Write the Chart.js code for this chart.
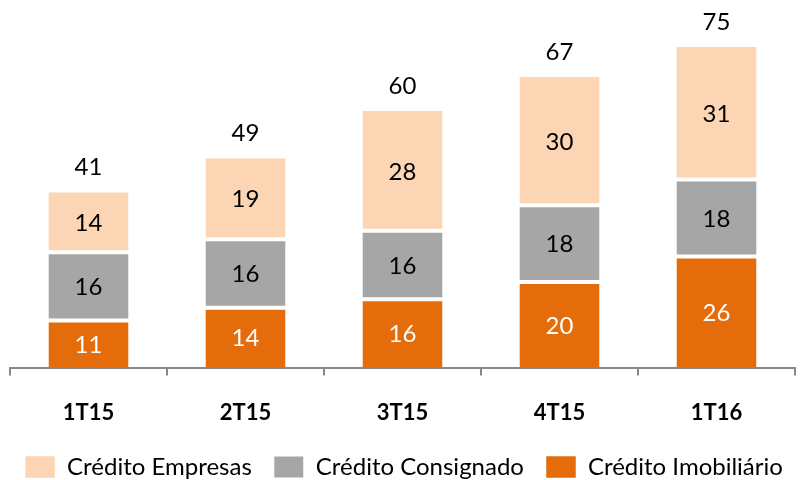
<!DOCTYPE html>
<html>
<head>
<meta charset="utf-8">
<script src="https://cdn.jsdelivr.net/npm/chart.js@4"></script>
<style>
  html, body { margin: 0; padding: 0; background: #fff; }
  #wrap { width: 808px; height: 480px; }
</style>
</head>
<body>
<div id="wrap"><canvas id="barChart" width="808" height="480"></canvas></div>
<script>
const labels = ["1T15", "2T15", "3T15", "4T15", "1T16"];
const imobiliario = [11, 14, 16, 20, 26];
const consignado = [16, 16, 16, 18, 18];
const empresas = [14, 19, 28, 30, 31];
const totals = [41, 49, 60, 67, 75];

const FONT = "Lato, 'Open Sans', sans-serif";

// draws the numbers inside the segments and the totals on top
const valueLabels = {
  id: "valueLabels",
  afterDatasetsDraw(chart) {
    const ctx = chart.ctx;
    ctx.save();
    ctx.textAlign = "center";
    ctx.textBaseline = "middle";
    ctx.font = "24px " + FONT;
    chart.data.datasets.forEach((ds, i) => {
      const meta = chart.getDatasetMeta(i);
      meta.data.forEach((bar, j) => {
        ctx.fillStyle = i === 0 ? "#ffffff" : "#000000";
        ctx.fillText(ds.data[j], bar.x, (bar.y + bar.base) / 2 + 1);
      });
    });
    const top = chart.getDatasetMeta(2);
    ctx.fillStyle = "#000000";
    top.data.forEach((bar, j) => {
      ctx.fillText(totals[j], bar.x, bar.y - 25);
    });
    ctx.restore();
  }
};

// invisible side axes, only used to hold the plot margins
const fixedWidth = (w) => (scale) => { scale.width = w; };

const ctx = document.getElementById("barChart");
new Chart(ctx, {
  type: "bar",
  data: {
    labels: labels,
    datasets: [
      {
        label: "Crédito Imobiliário",
        data: imobiliario,
        backgroundColor: "#E46C0A",
        borderColor: "#ffffff",
        borderWidth: { top: 2 },
        borderSkipped: false
      },
      {
        label: "Crédito Consignado",
        data: consignado,
        backgroundColor: "#A6A6A6",
        borderColor: "#ffffff",
        borderWidth: { top: 2, bottom: 2 },
        borderSkipped: false
      },
      {
        label: "Crédito Empresas",
        data: empresas,
        backgroundColor: "#FCD5B5",
        borderColor: "#ffffff",
        borderWidth: { bottom: 2 },
        borderSkipped: false
      }
    ]
  },
  options: {
    responsive: false,
    animation: false,
    layout: { padding: { left: 0, right: 0, top: 47, bottom: -9 } },
    datasets: {
      bar: { categoryPercentage: 1, barPercentage: 0.51 }
    },
    scales: {
      x: {
        stacked: true,
        offset: true,
        grid: {
          offset: true,
          drawOnChartArea: false,
          drawTicks: true,
          tickLength: 8,
          color: "#888888",
          lineWidth: 2
        },
        border: { display: true, color: "#888888", width: 2 },
        ticks: {
          color: "#000000",
          padding: 24,
          font: { family: FONT, size: 22, weight: "bold" }
        },
        afterFit: (scale) => { scale.height -= 17; }
      },
      y: {
        stacked: true,
        position: "left",
        min: 0,
        max: 75,
        grid: { display: false },
        border: { display: false },
        ticks: { display: false },
        afterFit: fixedWidth(10)
      },
      yRight: {
        type: "linear",
        position: "right",
        grid: { display: false },
        border: { display: false },
        ticks: { display: false },
        afterFit: fixedWidth(13)
      }
    },
    plugins: {
      legend: {
        position: "bottom",
        reverse: true,
        labels: {
          boxWidth: 30,
          boxHeight: 22,
          padding: 22,
          color: "#000000",
          font: { family: FONT, size: 24 }
        }
      },
      tooltip: { enabled: false }
    }
  },
  plugins: [valueLabels]
});
</script>
</body>
</html>
